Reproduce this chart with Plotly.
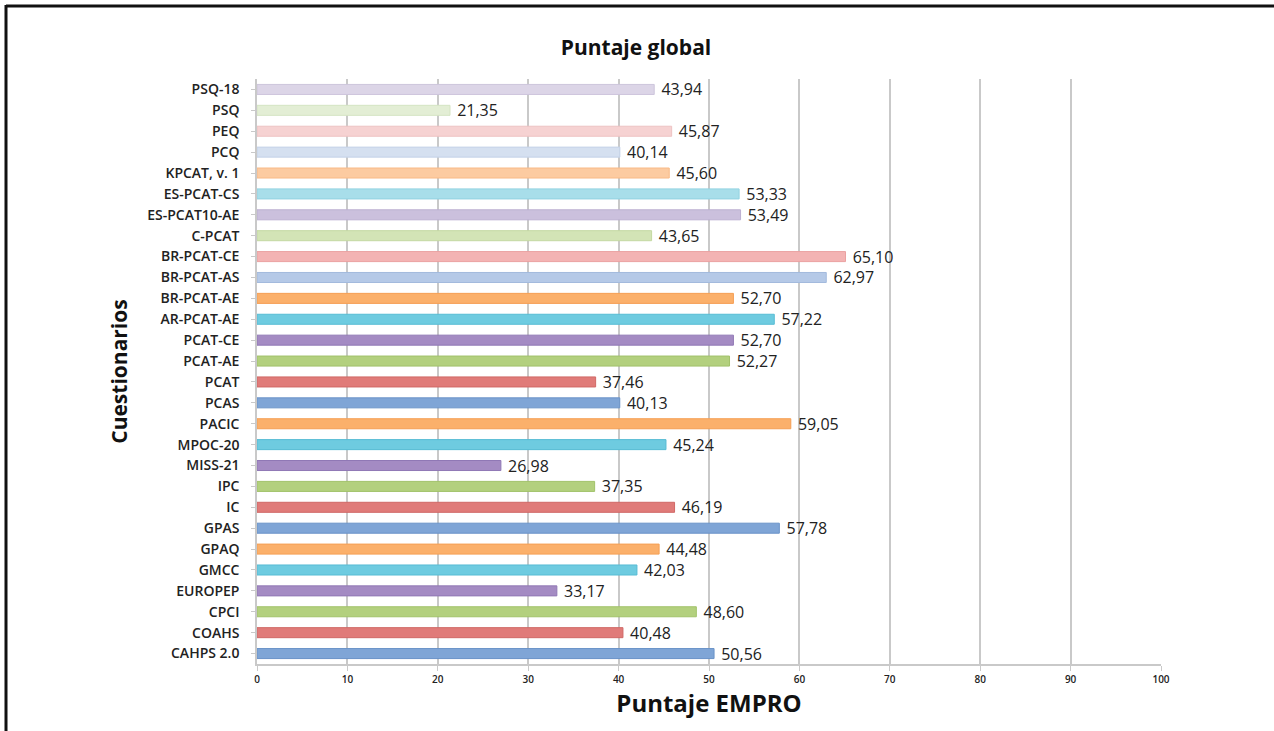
import plotly.graph_objects as go

# Cuestionarios (de abajo hacia arriba) y su puntaje EMPRO global
cuestionarios = [
    "CAHPS 2.0", "COAHS", "CPCI", "EUROPEP", "GMCC", "GPAQ", "GPAS", "IC",
    "IPC", "MISS-21", "MPOC-20", "PACIC", "PCAS", "PCAT", "PCAT-AE", "PCAT-CE",
    "AR-PCAT-AE", "BR-PCAT-AE", "BR-PCAT-AS", "BR-PCAT-CE", "C-PCAT",
    "ES-PCAT10-AE", "ES-PCAT-CS", "KPCAT, v. 1", "PCQ", "PEQ", "PSQ", "PSQ-18",
]
puntajes = [
    50.56, 40.48, 48.60, 33.17, 42.03, 44.48, 57.78, 46.19,
    37.35, 26.98, 45.24, 59.05, 40.13, 37.46, 52.27, 52.70,
    57.22, 52.70, 62.97, 65.10, 43.65,
    53.49, 53.33, 45.60, 40.14, 45.87, 21.35, 43.94,
]
x_ticks = [0, 10, 20, 30, 40, 50, 60, 70, 80, 90, 100]

# Paleta tipo Office: seis tonos base, variantes claras y muy claras
paleta = [
    "#7fa5d6", "#e07b79", "#b3d07e", "#a48bc3", "#6ecbe0", "#fbb06b",
    "#b5c9e7", "#f3b3b3", "#d3e4b6", "#cbc0dd", "#a8deea", "#fccba1",
    "#d5e0f0", "#f6d2d2", "#e3eed5", "#dcd5e7",
]
bordes = [
    "#6a93c8", "#d06866", "#a2c26a", "#9078b5", "#57bcd4", "#f59f55",
    "#a3badd", "#eaa1a1", "#c4d9a2", "#bcb0d2", "#93d3e2", "#f8ba87",
    "#c4d2e8", "#eec2c2", "#d5e4c3", "#cdc5dc",
]
# índice de color de cada barra, desde abajo
ciclo = [
    0, 1, 2, 3, 4, 5,
    0, 1, 2, 3, 4, 5,
    0, 1, 2, 3, 4, 5,
    6, 7, 8, 9, 10, 11,
    12, 13, 14, 15,
]
colores = [paleta[c] for c in ciclo]
lineas = [bordes[c] for c in ciclo]

fig = go.Figure(
    go.Bar(
        x=puntajes,
        y=cuestionarios,
        orientation="h",
        marker=dict(color=colores, line=dict(color=lineas, width=1)),
        texttemplate="\u00a0%{x:.2f}",
        textposition="outside",
        constraintext="none",
        textfont=dict(family="Open Sans", size=16, color="#222222"),
        cliponaxis=False,
        width=0.48,
        hoverinfo="x+y",
    )
)

L, R, T, B = 257, 113, 79, 67
W, H = 1274, 731
pw, ph = W - L - R, H - T - B


def px_x(p):
    return (p - L) / pw


def px_y(p):
    return (H - B - p) / ph


fig.update_layout(
    width=W,
    height=H,
    margin=dict(l=L, r=R, t=T, b=B, pad=0),
    paper_bgcolor="white",
    plot_bgcolor="white",
    separators=",.",
    showlegend=False,
    title=dict(
        text="<b>Puntaje global</b>",
        x=636 / W,
        xref="container",
        xanchor="center",
        y=1 - 48 / H,
        yref="container",
        yanchor="middle",
        font=dict(family="Open Sans", size=21, color="#111111"),
    ),
    xaxis=dict(
        range=[0, 100],
        tickvals=x_ticks,
        ticktext=[str(v) for v in x_ticks],
        showgrid=True,
        gridcolor="#c9c9c9",
        gridwidth=1.5,
        zeroline=False,
        showline=True,
        linecolor="#c9c9c9",
        linewidth=1.5,
        ticks="outside",
        ticklen=5,
        tickcolor="#c9c9c9",
        tickfont=dict(family="Open Sans", size=10, color="#222222", weight=600),
        title=dict(
            text="<b>Puntaje EMPRO</b>",
            font=dict(family="Open Sans", size=24, color="#111111"),
            standoff=10,
        ),
    ),
    yaxis=dict(
        categoryorder="array",
        categoryarray=cuestionarios,
        range=[-0.5, len(cuestionarios) - 0.5],
        showgrid=False,
        showline=True,
        linecolor="#c9c9c9",
        linewidth=1.5,
        ticks="outside",
        ticklen=4,
        tickcolor="#c9c9c9",
        tickfont=dict(family="Open Sans", size=14, color="#222222", weight=600),
        ticklabelstandoff=9,
        title=dict(
            text="<b>Cuestionarios</b>",
            font=dict(family="Open Sans", size=21, color="#111111"),
            standoff=14,
        ),
    ),
    shapes=[
        dict(type="line", xref="paper", yref="paper",
             x0=px_x(6), x1=px_x(W + 5), y0=px_y(6), y1=px_y(6),
             line=dict(color="#111111", width=3)),
        dict(type="line", xref="paper", yref="paper",
             x0=px_x(6), x1=px_x(6), y0=px_y(5), y1=px_y(H + 5),
             line=dict(color="#111111", width=3)),
    ],
)

fig.write_html("out.html")
